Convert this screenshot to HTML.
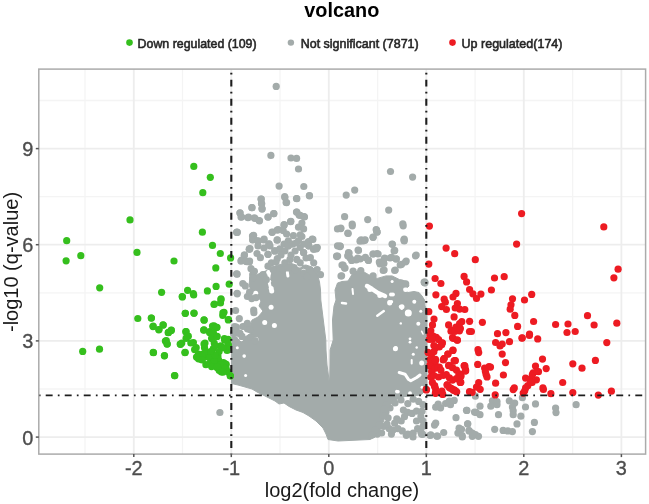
<!DOCTYPE html>
<html><head><meta charset="utf-8"><style>
html,body{margin:0;padding:0;background:#fff;}
svg{display:block;filter:blur(0.6px);}
.mi{stroke:#f4f4f4;stroke-width:1.3}
.ma{stroke:#ededed;stroke-width:1.8}
.dl{stroke:#1e1e1e;stroke-width:1.9;fill:none}
.tk{stroke:#555;stroke-width:1.5}
text{font-family:"Liberation Sans",sans-serif;}
.tl{font-size:21px;fill:#4d4d4d;stroke:#4d4d4d;stroke-width:0.35}
.at{font-size:20px;fill:#1a1a1a}
.ti{font-size:19.5px;font-weight:bold;fill:#000}
.lg{font-size:13.5px;fill:#262626;stroke:#262626;stroke-width:0.6}
</style></head>
<body><svg width="649" height="504" viewBox="0 0 649 504">
<rect x="0" y="0" width="649" height="504" fill="#fff"/>
<line x1="85" y1="69.1" x2="85" y2="454.1" class="mi"/>
<line x1="182.5" y1="69.1" x2="182.5" y2="454.1" class="mi"/>
<line x1="280" y1="69.1" x2="280" y2="454.1" class="mi"/>
<line x1="377.6" y1="69.1" x2="377.6" y2="454.1" class="mi"/>
<line x1="475.1" y1="69.1" x2="475.1" y2="454.1" class="mi"/>
<line x1="572.6" y1="69.1" x2="572.6" y2="454.1" class="mi"/>
<line x1="38.8" y1="389" x2="645.6" y2="389" class="mi"/>
<line x1="38.8" y1="292.8" x2="645.6" y2="292.8" class="mi"/>
<line x1="38.8" y1="196.7" x2="645.6" y2="196.7" class="mi"/>
<line x1="38.8" y1="100.5" x2="645.6" y2="100.5" class="mi"/>
<line x1="133.8" y1="69.1" x2="133.8" y2="454.1" class="ma"/>
<line x1="231.3" y1="69.1" x2="231.3" y2="454.1" class="ma"/>
<line x1="328.8" y1="69.1" x2="328.8" y2="454.1" class="ma"/>
<line x1="426.3" y1="69.1" x2="426.3" y2="454.1" class="ma"/>
<line x1="523.8" y1="69.1" x2="523.8" y2="454.1" class="ma"/>
<line x1="621.4" y1="69.1" x2="621.4" y2="454.1" class="ma"/>
<line x1="38.8" y1="437.1" x2="645.6" y2="437.1" class="ma"/>
<line x1="38.8" y1="340.9" x2="645.6" y2="340.9" class="ma"/>
<line x1="38.8" y1="244.7" x2="645.6" y2="244.7" class="ma"/>
<line x1="38.8" y1="148.6" x2="645.6" y2="148.6" class="ma"/>
<path d="M263 272 L268 270 L275 266 L282 264 L290 263 L299 266 L306 265 L312 267 L315 270 L317 273 L319.5 282 L320.5 290 L320.8 300 L323.3 320 L325.8 340 L326 350 L327 365 L328.5 376 L329.3 384 L329.8 376 L330 365 L330.1 350 L333.2 340 L332.5 320 L334 306 L336 300 L335 290 L337.5 283 L342 281.5 L348 281 L352.7 273.4 L360.1 269.7 L368.7 274.7 L377.3 278.4 L386 275.9 L392.1 275.9 L399.5 279.6 L406.9 281.5 L409 286 L405 290 L408 292.5 L414 291.5 L419 292.5 L422 296 L424.5 300 L425 306 L427 310 L427 389 L421 395 L405 396.5 L397 399 L391 404 L387 410 L384 420 L380 430 L375 437 L370 439.5 L338 441 L328 439.5 L326 434 L323 428 L316 421 L309 416 L303 412.5 L296 410 L289 406.4 L284 403 L279 404 L275 401 L267 397 L257 392 L252 389 L245 387 L238 385 L231.5 383.5 L231.5 343 L237 340 L245 337 L251 333 L250 327 L252 320 L258 317 L263 311 L259 306 L261 301 L258 297 L252 293 L249 285 L250 277 L256 275 Z" fill="#a3abaa" stroke="#a3abaa" stroke-width="1" stroke-linejoin="round"/>
<circle cx="268.7" cy="272.4" r="2.5" fill="#fff"/>
<circle cx="277.3" cy="258.2" r="2.5" fill="#fff"/>
<circle cx="287.2" cy="268.7" r="2.5" fill="#fff"/>
<circle cx="271.2" cy="288.4" r="2.5" fill="#fff"/>
<circle cx="255.7" cy="293.3" r="2.5" fill="#fff"/>
<circle cx="299.5" cy="265" r="2.5" fill="#fff"/>
<circle cx="290.9" cy="256.3" r="2.5" fill="#fff"/>
<circle cx="271.1" cy="307.3" r="2.5" fill="#fff"/>
<circle cx="264.7" cy="322.4" r="2.5" fill="#fff"/>
<circle cx="274.4" cy="325.6" r="2.5" fill="#fff"/>
<circle cx="256" cy="339.6" r="2.5" fill="#fff"/>
<circle cx="271.7" cy="291" r="2.5" fill="#fff"/>
<circle cx="369.9" cy="289.5" r="2.5" fill="#fff"/>
<circle cx="379.8" cy="295.6" r="2.5" fill="#fff"/>
<circle cx="389.7" cy="303" r="2.5" fill="#fff"/>
<circle cx="402" cy="306.7" r="2.5" fill="#fff"/>
<circle cx="405.7" cy="289.5" r="2.5" fill="#fff"/>
<circle cx="398" cy="391.8" r="1.8" fill="#fff"/>
<circle cx="410" cy="393.1" r="1.8" fill="#fff"/>
<circle cx="235.9" cy="332.5" r="1.5" fill="#fff"/>
<circle cx="241.4" cy="339.4" r="1.8" fill="#fff"/>
<circle cx="237.3" cy="347.8" r="1.5" fill="#fff"/>
<circle cx="244.2" cy="356.1" r="1.8" fill="#fff"/>
<circle cx="245.6" cy="375.6" r="1.5" fill="#fff"/>
<circle cx="257.5" cy="266" r="2.2" fill="#fff"/>
<circle cx="259.5" cy="270" r="2" fill="#fff"/>
<circle cx="268.8" cy="272.1" r="1.8" fill="#fff"/>
<circle cx="277.3" cy="259" r="1.8" fill="#fff"/>
<circle cx="269.6" cy="281.4" r="1.6" fill="#fff"/>
<circle cx="266.5" cy="254.3" r="1.6" fill="#fff"/>
<circle cx="259.5" cy="253.5" r="1.5" fill="#fff"/>
<circle cx="277.2" cy="258.4" r="2" fill="#fff"/>
<circle cx="389.3" cy="301.9" r="2" fill="#fff"/>
<circle cx="391" cy="294.5" r="2" fill="#fff"/>
<circle cx="408.3" cy="313" r="3.5" fill="#fff"/>
<circle cx="418.3" cy="323.8" r="2" fill="#fff"/>
<circle cx="392.9" cy="294.6" r="2" fill="#fff"/>
<circle cx="391.4" cy="301.7" r="1.8" fill="#fff"/>
<circle cx="414.3" cy="301.7" r="2" fill="#fff"/>
<circle cx="400.7" cy="306.7" r="2" fill="#fff"/>
<circle cx="392.1" cy="281.4" r="1.5" fill="#fff"/>
<circle cx="401.7" cy="308.8" r="1.3" fill="#fff"/>
<circle cx="420.8" cy="311.3" r="1.5" fill="#fff"/>
<circle cx="400.8" cy="323.4" r="1.2" fill="#fff"/>
<circle cx="410" cy="338.8" r="1.4" fill="#fff"/>
<circle cx="410" cy="342.2" r="1.4" fill="#fff"/>
<circle cx="395.8" cy="348" r="2" fill="#fff"/>
<circle cx="395.4" cy="348.8" r="2.5" fill="#fff"/>
<circle cx="413.3" cy="354.2" r="1.5" fill="#fff"/>
<circle cx="421.7" cy="362.9" r="2.5" fill="#fff"/>
<circle cx="416.7" cy="347.5" r="1.2" fill="#fff"/>
<circle cx="303.6" cy="271" r="2.2" fill="#fff"/>
<circle cx="396.8" cy="391.6" r="1.8" fill="#fff"/>
<circle cx="410" cy="394" r="1.8" fill="#fff"/>
<circle cx="422" cy="387.2" r="1.5" fill="#fff"/>
<polyline points="287,270 287.9,276" fill="none" stroke="#fff" stroke-width="3" stroke-linecap="round" stroke-linejoin="round"/>
<polyline points="269.4,272.7 268.5,280 270.3,287" fill="none" stroke="#fff" stroke-width="3" stroke-linecap="round" stroke-linejoin="round"/>
<polyline points="352.5,289 353,294" fill="none" stroke="#fff" stroke-width="2" stroke-linecap="round" stroke-linejoin="round"/>
<polyline points="367,286 372,289 378,293 385,296" fill="none" stroke="#fff" stroke-width="4.5" stroke-linecap="round" stroke-linejoin="round"/>
<polyline points="377.3,315.7 383.8,311.1" fill="none" stroke="#fff" stroke-width="2.5" stroke-linecap="round" stroke-linejoin="round"/>
<polyline points="342,303 346,303.5" fill="none" stroke="#fff" stroke-width="2.5" stroke-linecap="round" stroke-linejoin="round"/>
<polyline points="421.7,331.3 423,334" fill="none" stroke="#fff" stroke-width="1.6" stroke-linecap="round" stroke-linejoin="round"/>
<polyline points="411.7,360 411.7,363.5" fill="none" stroke="#fff" stroke-width="2" stroke-linecap="round" stroke-linejoin="round"/>
<polyline points="399.2,372.5 405,374.2 408.3,379.2 410.8,380.8 416.7,377.5 420,375" fill="none" stroke="#fff" stroke-width="3" stroke-linecap="round" stroke-linejoin="round"/>
<g fill="#a3abaa"><circle cx="276.2" cy="86.4" r="3.6"/><circle cx="270.9" cy="155.4" r="3.6"/><circle cx="291" cy="158" r="3.6"/><circle cx="296.6" cy="158.4" r="3.6"/><circle cx="298.5" cy="169" r="3.6"/><circle cx="279.1" cy="186.1" r="3.6"/><circle cx="303.8" cy="186.5" r="3.6"/><circle cx="309.4" cy="195.5" r="3.6"/><circle cx="284.7" cy="196.5" r="3.6"/><circle cx="286.1" cy="202.5" r="3.6"/><circle cx="296.5" cy="198.5" r="3.6"/><circle cx="261.1" cy="199.1" r="3.6"/><circle cx="261.7" cy="203.7" r="3.6"/><circle cx="262.1" cy="209.1" r="3.6"/><circle cx="252" cy="207.7" r="3.6"/><circle cx="240" cy="213.1" r="3.6"/><circle cx="241" cy="217.1" r="3.6"/><circle cx="248" cy="217.7" r="3.6"/><circle cx="255.1" cy="218.5" r="3.6"/><circle cx="259.1" cy="220.5" r="3.6"/><circle cx="268.1" cy="217.1" r="3.6"/><circle cx="273.7" cy="213.7" r="3.6"/><circle cx="296.5" cy="212.1" r="3.6"/><circle cx="299.1" cy="215.1" r="3.6"/><circle cx="304.2" cy="216.7" r="3.6"/><circle cx="290.5" cy="221.7" r="3.6"/><circle cx="237" cy="232.2" r="3.6"/><circle cx="272.1" cy="232.2" r="3.6"/><circle cx="277.1" cy="230.2" r="3.6"/><circle cx="284.1" cy="225.2" r="3.6"/><circle cx="253" cy="235.8" r="3.6"/><circle cx="254.1" cy="239.2" r="3.6"/><circle cx="258.1" cy="241.2" r="3.6"/><circle cx="264.1" cy="239.2" r="3.6"/><circle cx="269.1" cy="243.8" r="3.6"/><circle cx="277.1" cy="240.2" r="3.6"/><circle cx="312.2" cy="239.2" r="3.6"/><circle cx="308.2" cy="242.2" r="3.6"/><circle cx="316.2" cy="247.8" r="3.6"/><circle cx="250" cy="248.6" r="3.6"/><circle cx="346.2" cy="195.1" r="3.6"/><circle cx="354.7" cy="190.1" r="3.6"/><circle cx="344.6" cy="216.7" r="3.6"/><circle cx="352.2" cy="224.1" r="3.6"/><circle cx="340.8" cy="228.6" r="3.6"/><circle cx="347.8" cy="233.2" r="3.6"/><circle cx="340.2" cy="246.2" r="3.6"/><circle cx="390.5" cy="171.5" r="3.6"/><circle cx="412.6" cy="177.1" r="3.6"/><circle cx="388.7" cy="210.1" r="3.6"/><circle cx="367.7" cy="219.6" r="3.6"/><circle cx="402.8" cy="223.8" r="3.6"/><circle cx="376.5" cy="230.2" r="3.6"/><circle cx="377.1" cy="232.2" r="3.6"/><circle cx="373.1" cy="237.2" r="3.6"/><circle cx="361.1" cy="239.8" r="3.6"/><circle cx="365.1" cy="239.8" r="3.6"/><circle cx="404.2" cy="239.2" r="3.6"/><circle cx="237.4" cy="232.3" r="3.6"/><circle cx="237.1" cy="274.2" r="3.6"/><circle cx="237.1" cy="293.3" r="3.6"/><circle cx="252.5" cy="236" r="3.6"/><circle cx="252.8" cy="239.7" r="3.6"/><circle cx="249.3" cy="249.2" r="3.6"/><circle cx="244.4" cy="255.1" r="3.6"/><circle cx="241.5" cy="260.2" r="3.6"/><circle cx="246.6" cy="261.7" r="3.6"/><circle cx="249.6" cy="261" r="3.6"/><circle cx="219.9" cy="412.5" r="3.6"/><circle cx="424.4" cy="282.6" r="3.6"/><circle cx="340" cy="246" r="3.6"/><circle cx="337.6" cy="256" r="3.6"/><circle cx="349.1" cy="253" r="3.6"/><circle cx="350.1" cy="258" r="3.6"/><circle cx="358.1" cy="250" r="3.6"/><circle cx="363.1" cy="241" r="3.6"/><circle cx="373.1" cy="254" r="3.6"/><circle cx="378.1" cy="254" r="3.6"/><circle cx="392.1" cy="244" r="3.6"/><circle cx="394.1" cy="251" r="3.6"/><circle cx="404.2" cy="241" r="3.6"/><circle cx="416.2" cy="255" r="3.6"/><circle cx="368.1" cy="260" r="3.6"/><circle cx="384.1" cy="259" r="3.6"/><circle cx="390.1" cy="258" r="3.6"/><circle cx="396.2" cy="259" r="3.6"/><circle cx="406.2" cy="261" r="3.6"/><circle cx="400.2" cy="265" r="3.6"/><circle cx="342" cy="265" r="3.6"/><circle cx="345" cy="268" r="3.6"/><circle cx="356.1" cy="260" r="3.6"/><circle cx="360.1" cy="259" r="3.6"/><circle cx="341" cy="276" r="3.6"/><circle cx="424.2" cy="282" r="3.6"/><circle cx="395.2" cy="270" r="3.6"/><circle cx="380.1" cy="264" r="3.6"/><circle cx="384.1" cy="270" r="3.6"/><circle cx="237.2" cy="293.8" r="3.6"/><circle cx="235.6" cy="310.5" r="3.6"/><circle cx="239.3" cy="318.6" r="3.6"/><circle cx="253.7" cy="310" r="3.6"/><circle cx="253.9" cy="312.7" r="3.6"/><circle cx="247.4" cy="296.5" r="3.6"/><circle cx="251.7" cy="298.6" r="3.6"/><circle cx="256" cy="297.6" r="3.6"/><circle cx="249.6" cy="292.2" r="3.6"/><circle cx="234.5" cy="326.7" r="3.6"/><circle cx="236.1" cy="329.9" r="3.6"/><circle cx="238.2" cy="333.2" r="3.6"/><circle cx="245.3" cy="326.1" r="3.6"/><circle cx="247.4" cy="328.8" r="3.6"/><circle cx="242" cy="336.4" r="3.6"/><circle cx="234.5" cy="339.6" r="3.6"/><circle cx="250.7" cy="337.5" r="3.6"/><circle cx="255" cy="340.7" r="3.6"/><circle cx="576.1" cy="404.7" r="3.6"/><circle cx="555.6" cy="408" r="3.6"/><circle cx="556" cy="412.6" r="3.6"/><circle cx="475.4" cy="396.2" r="3.6"/><circle cx="492.4" cy="400.8" r="3.6"/><circle cx="497" cy="401.6" r="3.6"/><circle cx="490.8" cy="406.2" r="3.6"/><circle cx="497" cy="404.7" r="3.6"/><circle cx="509.3" cy="400.8" r="3.6"/><circle cx="514.7" cy="403.1" r="3.6"/><circle cx="512.4" cy="407" r="3.6"/><circle cx="513.2" cy="410.8" r="3.6"/><circle cx="513.2" cy="414.7" r="3.6"/><circle cx="522.4" cy="397.7" r="3.6"/><circle cx="525.5" cy="407" r="3.6"/><circle cx="535.5" cy="403.9" r="3.6"/><circle cx="466.9" cy="410.4" r="3.6"/><circle cx="480" cy="406.2" r="3.6"/><circle cx="476.2" cy="412.4" r="3.6"/><circle cx="480" cy="414.7" r="3.6"/><circle cx="498.5" cy="414.7" r="3.6"/><circle cx="520.9" cy="416.2" r="3.6"/><circle cx="517" cy="423.9" r="3.6"/><circle cx="534.4" cy="422.4" r="3.6"/><circle cx="467.7" cy="423.9" r="3.6"/><circle cx="494.7" cy="429.3" r="3.6"/><circle cx="503.1" cy="430.4" r="3.6"/><circle cx="507.8" cy="430.9" r="3.6"/><circle cx="512.4" cy="431.6" r="3.6"/><circle cx="532.4" cy="431.6" r="3.6"/><circle cx="469.2" cy="430.9" r="3.6"/><circle cx="472.3" cy="433.2" r="3.6"/><circle cx="475.4" cy="434.7" r="3.6"/><circle cx="478.5" cy="436.3" r="3.6"/><circle cx="472.3" cy="436.3" r="3.6"/><circle cx="461.5" cy="429.3" r="3.6"/><circle cx="462.3" cy="437" r="3.6"/><circle cx="435.7" cy="407.2" r="3.6"/><circle cx="440.6" cy="407.8" r="3.6"/><circle cx="445.6" cy="403.5" r="3.6"/><circle cx="450.5" cy="404.7" r="3.6"/><circle cx="454.2" cy="400.4" r="3.6"/><circle cx="449.3" cy="401" r="3.6"/><circle cx="438.2" cy="404.1" r="3.6"/><circle cx="466.5" cy="410.3" r="3.6"/><circle cx="474.5" cy="412.1" r="3.6"/><circle cx="456" cy="417.7" r="3.6"/><circle cx="434.5" cy="425.1" r="3.6"/><circle cx="435.7" cy="423.2" r="3.6"/><circle cx="467.7" cy="423.8" r="3.6"/><circle cx="459.1" cy="428.2" r="3.6"/><circle cx="457.9" cy="433.1" r="3.6"/><circle cx="462.2" cy="435.6" r="3.6"/><circle cx="469" cy="430.6" r="3.6"/><circle cx="472.7" cy="434.3" r="3.6"/><circle cx="443.7" cy="432.5" r="3.6"/><circle cx="437.5" cy="436.2" r="3.6"/><circle cx="430.8" cy="434.9" r="3.6"/><circle cx="422.7" cy="434.3" r="3.6"/><circle cx="406.3" cy="435.3" r="3.6"/><circle cx="413" cy="437" r="3.6"/><circle cx="421.5" cy="434.1" r="3.6"/><circle cx="430" cy="435.3" r="3.6"/><circle cx="436.8" cy="436.1" r="3.6"/><circle cx="261.2" cy="199.2" r="3.6"/><circle cx="261.5" cy="203.5" r="3.6"/><circle cx="262" cy="208.6" r="3.6"/><circle cx="251.9" cy="207.7" r="3.6"/><circle cx="240" cy="212.8" r="3.6"/><circle cx="241.7" cy="217" r="3.6"/><circle cx="248.5" cy="217" r="3.6"/><circle cx="254.4" cy="217.9" r="3.6"/><circle cx="259.5" cy="220.8" r="3.6"/><circle cx="268" cy="217" r="3.6"/><circle cx="273.9" cy="213.6" r="3.6"/><circle cx="284.9" cy="197.5" r="3.6"/><circle cx="286.6" cy="202.6" r="3.6"/><circle cx="296.8" cy="198.7" r="3.6"/><circle cx="309.5" cy="195.8" r="3.6"/><circle cx="296.8" cy="212" r="3.6"/><circle cx="300.2" cy="215.3" r="3.6"/><circle cx="304.4" cy="217" r="3.6"/><circle cx="290.9" cy="221.3" r="3.6"/><circle cx="284.1" cy="224.7" r="3.6"/><circle cx="301.9" cy="223" r="3.6"/><circle cx="298.5" cy="227.2" r="3.6"/><circle cx="303.6" cy="228.9" r="3.6"/><circle cx="272.2" cy="232.3" r="3.6"/><circle cx="278.2" cy="229.7" r="3.6"/><circle cx="283.2" cy="230.6" r="3.6"/><circle cx="286.6" cy="234" r="3.6"/><circle cx="293.4" cy="235.7" r="3.6"/><circle cx="300.2" cy="234.8" r="3.6"/><circle cx="236.6" cy="232.3" r="3.6"/><circle cx="253.6" cy="235.3" r="3.6"/><circle cx="252.7" cy="239.9" r="3.6"/><circle cx="257.8" cy="240.8" r="3.6"/><circle cx="263.7" cy="239.9" r="3.6"/><circle cx="268.8" cy="244.2" r="3.6"/><circle cx="277.3" cy="239.9" r="3.6"/><circle cx="288.3" cy="240.8" r="3.6"/><circle cx="284.1" cy="244.2" r="3.6"/><circle cx="288.3" cy="245.8" r="3.6"/><circle cx="292.6" cy="244.2" r="3.6"/><circle cx="298.5" cy="240.8" r="3.6"/><circle cx="301.9" cy="236.5" r="3.6"/><circle cx="308.7" cy="241.6" r="3.6"/><circle cx="312.9" cy="239.4" r="3.6"/><circle cx="316.3" cy="248.9" r="3.6"/><circle cx="249.3" cy="249.2" r="3.6"/><circle cx="244.3" cy="255.2" r="3.6"/><circle cx="240.9" cy="261.1" r="3.6"/><circle cx="245.9" cy="261.1" r="3.6"/><circle cx="249.3" cy="262" r="3.6"/><circle cx="257" cy="253.5" r="3.6"/><circle cx="260.4" cy="257.7" r="3.6"/><circle cx="251" cy="268.7" r="3.6"/><circle cx="252.7" cy="274.7" r="3.6"/><circle cx="236.6" cy="273.8" r="3.6"/><circle cx="268" cy="254.3" r="3.6"/><circle cx="274.8" cy="250.9" r="3.6"/><circle cx="279.8" cy="249.2" r="3.6"/><circle cx="303.6" cy="252.6" r="3.6"/><circle cx="308.7" cy="245.8" r="3.6"/><circle cx="313.7" cy="249.2" r="3.6"/><circle cx="317.1" cy="247.5" r="3.6"/><circle cx="337.5" cy="228.9" r="3.6"/><circle cx="337.5" cy="245.8" r="3.6"/><circle cx="336.6" cy="256" r="3.6"/><circle cx="340.8" cy="228.1" r="3.6"/><circle cx="352.3" cy="225.8" r="3.6"/><circle cx="348.2" cy="233.5" r="3.6"/><circle cx="376.2" cy="229.6" r="3.6"/><circle cx="377" cy="231.9" r="3.6"/><circle cx="373.1" cy="237.3" r="3.6"/><circle cx="403.2" cy="225.8" r="3.6"/><circle cx="360" cy="241.2" r="3.6"/><circle cx="364.7" cy="240.4" r="3.6"/><circle cx="404" cy="239.9" r="3.6"/><circle cx="340" cy="246.6" r="3.6"/><circle cx="392.4" cy="244.3" r="3.6"/><circle cx="394.7" cy="250.4" r="3.6"/><circle cx="348.5" cy="252.7" r="3.6"/><circle cx="347.7" cy="255.8" r="3.6"/><circle cx="358.5" cy="250.4" r="3.6"/><circle cx="336.9" cy="256.6" r="3.6"/><circle cx="373.1" cy="254" r="3.6"/><circle cx="377" cy="253.5" r="3.6"/><circle cx="415.5" cy="255.8" r="3.6"/><circle cx="351.6" cy="260.4" r="3.6"/><circle cx="357.7" cy="258.1" r="3.6"/><circle cx="365.4" cy="257.4" r="3.6"/><circle cx="368.5" cy="260.4" r="3.6"/><circle cx="379.3" cy="262" r="3.6"/><circle cx="384.7" cy="258.1" r="3.6"/><circle cx="383.9" cy="263.5" r="3.6"/><circle cx="391.6" cy="257.4" r="3.6"/><circle cx="396.3" cy="258.9" r="3.6"/><circle cx="401.6" cy="264.3" r="3.6"/><circle cx="405.5" cy="262" r="3.6"/><circle cx="343.1" cy="265.1" r="3.6"/><circle cx="344.6" cy="268.1" r="3.6"/><circle cx="394.7" cy="270.5" r="3.6"/><circle cx="383.2" cy="270.5" r="3.6"/><circle cx="341.6" cy="275.8" r="3.6"/><circle cx="424.8" cy="282" r="3.6"/><circle cx="353.1" cy="271.2" r="3.6"/><circle cx="360.8" cy="270.5" r="3.6"/><circle cx="373.1" cy="275.8" r="3.6"/><circle cx="236.3" cy="327" r="3.6"/><circle cx="242.8" cy="326.5" r="3.6"/><circle cx="247.4" cy="323.3" r="3.6"/><circle cx="250.2" cy="329.7" r="3.6"/><circle cx="240" cy="333.4" r="3.6"/><circle cx="233.5" cy="333.4" r="3.6"/><circle cx="401.4" cy="283.1" r="3.6"/><circle cx="405.7" cy="283.9" r="3.6"/><circle cx="425" cy="282.8" r="3.6"/><circle cx="268" cy="254.3" r="3.6"/><circle cx="274.8" cy="250.9" r="3.6"/><circle cx="279.8" cy="249.2" r="3.6"/><circle cx="277.3" cy="258.6" r="3.6"/><circle cx="284.9" cy="251" r="3.6"/><circle cx="288.3" cy="245.8" r="3.6"/><circle cx="295.1" cy="251" r="3.6"/><circle cx="300.2" cy="247.5" r="3.6"/><circle cx="303.6" cy="252.6" r="3.6"/><circle cx="308.7" cy="245.8" r="3.6"/><circle cx="313.7" cy="249.2" r="3.6"/><circle cx="317.1" cy="247.5" r="3.6"/><circle cx="271.4" cy="262.8" r="3.6"/><circle cx="268" cy="266.2" r="3.6"/><circle cx="273.1" cy="269.6" r="3.6"/><circle cx="284.9" cy="262.8" r="3.6"/><circle cx="290" cy="259.4" r="3.6"/><circle cx="283.2" cy="269.6" r="3.6"/><circle cx="288.3" cy="267.9" r="3.6"/><circle cx="296.8" cy="259.4" r="3.6"/><circle cx="300.2" cy="262.8" r="3.6"/><circle cx="295.1" cy="269.6" r="3.6"/><circle cx="310.4" cy="257.7" r="3.6"/><circle cx="313.7" cy="262.8" r="3.6"/><circle cx="317.1" cy="269.6" r="3.6"/><circle cx="320.5" cy="274.7" r="3.6"/><circle cx="303.6" cy="273" r="3.6"/><circle cx="307" cy="276.4" r="3.6"/><circle cx="254.4" cy="271.3" r="3.6"/><circle cx="252.7" cy="278" r="3.6"/><circle cx="262.9" cy="274.7" r="3.6"/><circle cx="266.3" cy="279.7" r="3.6"/><circle cx="291" cy="255" r="3.6"/><circle cx="281" cy="255" r="3.6"/><circle cx="306" cy="258" r="3.6"/><circle cx="276" cy="262" r="3.6"/><circle cx="407.8" cy="403.6" r="3.6"/><circle cx="413.2" cy="399.2" r="3.6"/><circle cx="418.7" cy="401.4" r="3.6"/><circle cx="423" cy="404.7" r="3.6"/><circle cx="422" cy="411.2" r="3.6"/><circle cx="403.4" cy="410.1" r="3.6"/><circle cx="407.8" cy="412.3" r="3.6"/><circle cx="412.1" cy="413.4" r="3.6"/><circle cx="416.5" cy="411.2" r="3.6"/><circle cx="420.9" cy="416.7" r="3.6"/><circle cx="396.8" cy="418.8" r="3.6"/><circle cx="401.2" cy="421" r="3.6"/><circle cx="404.5" cy="416.7" r="3.6"/><circle cx="394.7" cy="423.2" r="3.6"/><circle cx="397.9" cy="428.7" r="3.6"/><circle cx="402.3" cy="430.9" r="3.6"/><circle cx="407.8" cy="434.1" r="3.6"/><circle cx="413.2" cy="433" r="3.6"/><circle cx="417.6" cy="428.7" r="3.6"/><circle cx="420.9" cy="431.9" r="3.6"/><circle cx="423" cy="426.5" r="3.6"/><circle cx="416.5" cy="421" r="3.6"/><circle cx="423" cy="421" r="3.6"/><circle cx="385.9" cy="412.3" r="3.6"/><circle cx="388.1" cy="417.8" r="3.6"/><circle cx="383.7" cy="426.5" r="3.6"/><circle cx="389.2" cy="428.7" r="3.6"/><circle cx="391.4" cy="434.1" r="3.6"/><circle cx="381.6" cy="433" r="3.6"/><circle cx="377.2" cy="434.1" r="3.6"/><circle cx="401" cy="400" r="3.6"/><circle cx="395" cy="403" r="3.6"/><circle cx="390" cy="408" r="3.6"/><circle cx="386" cy="405" r="3.6"/><circle cx="383" cy="415" r="3.6"/><circle cx="379" cy="425" r="3.6"/><circle cx="375" cy="430" r="3.6"/><circle cx="372" cy="435" r="3.6"/><circle cx="384" cy="409" r="3.6"/><circle cx="387" cy="424" r="3.6"/><circle cx="393" cy="430" r="3.6"/><circle cx="242.8" cy="283.5" r="3.6"/><circle cx="245.3" cy="285.9" r="3.6"/><circle cx="258" cy="246" r="3.6"/><circle cx="264" cy="248" r="3.6"/><circle cx="270" cy="246" r="3.6"/><circle cx="296" cy="243" r="3.6"/><circle cx="304" cy="244" r="3.6"/></g>
<g fill="#35bf1d"><circle cx="193.8" cy="166.4" r="3.6"/><circle cx="210.3" cy="177.3" r="3.6"/><circle cx="202.8" cy="192.7" r="3.6"/><circle cx="130" cy="219.9" r="3.6"/><circle cx="202.4" cy="232.2" r="3.6"/><circle cx="66.7" cy="240.7" r="3.6"/><circle cx="212.5" cy="245.4" r="3.6"/><circle cx="220.3" cy="253.5" r="3.6"/><circle cx="230.6" cy="257.9" r="3.6"/><circle cx="80.8" cy="255.7" r="3.6"/><circle cx="137" cy="252.4" r="3.6"/><circle cx="66.1" cy="260.8" r="3.6"/><circle cx="174" cy="261" r="3.6"/><circle cx="215.8" cy="267.9" r="3.6"/><circle cx="99.7" cy="287.8" r="3.6"/><circle cx="161.6" cy="292.3" r="3.6"/><circle cx="229.2" cy="284.2" r="3.6"/><circle cx="216.1" cy="286.4" r="3.6"/><circle cx="207.4" cy="290.9" r="3.6"/><circle cx="187.6" cy="290.3" r="3.6"/><circle cx="193.3" cy="293.7" r="3.6"/><circle cx="182.2" cy="296.6" r="3.6"/><circle cx="221" cy="298.9" r="3.6"/><circle cx="220.5" cy="303" r="3.6"/><circle cx="214" cy="304.5" r="3.6"/><circle cx="137.8" cy="318.5" r="3.6"/><circle cx="151.4" cy="318.1" r="3.6"/><circle cx="185.4" cy="313.3" r="3.6"/><circle cx="194" cy="313" r="3.6"/><circle cx="224" cy="312.3" r="3.6"/><circle cx="222.8" cy="315.5" r="3.6"/><circle cx="228.3" cy="319.9" r="3.6"/><circle cx="204.2" cy="320.2" r="3.6"/><circle cx="153" cy="326.6" r="3.6"/><circle cx="159" cy="329.5" r="3.6"/><circle cx="163.3" cy="325.1" r="3.6"/><circle cx="171.4" cy="330.2" r="3.6"/><circle cx="168.5" cy="332.4" r="3.6"/><circle cx="185.8" cy="331.7" r="3.6"/><circle cx="203.7" cy="330.2" r="3.6"/><circle cx="214" cy="325.8" r="3.6"/><circle cx="217" cy="327.3" r="3.6"/><circle cx="209.6" cy="331.7" r="3.6"/><circle cx="166.3" cy="340.5" r="3.6"/><circle cx="167" cy="344.1" r="3.6"/><circle cx="186.1" cy="338.3" r="3.6"/><circle cx="180.2" cy="344.1" r="3.6"/><circle cx="82.7" cy="351.4" r="3.6"/><circle cx="99.5" cy="349.2" r="3.6"/><circle cx="153.5" cy="352.7" r="3.6"/><circle cx="164.4" cy="355.8" r="3.6"/><circle cx="184.9" cy="352.6" r="3.6"/><circle cx="174.8" cy="375.7" r="3.6"/><circle cx="230.2" cy="375.7" r="3.6"/><circle cx="221.4" cy="372" r="3.6"/><circle cx="188.3" cy="336.2" r="3.6"/><circle cx="181.8" cy="343.1" r="3.6"/><circle cx="193.4" cy="342.6" r="3.6"/><circle cx="196.2" cy="347.7" r="3.6"/><circle cx="198.5" cy="354.2" r="3.6"/><circle cx="198.5" cy="358.8" r="3.6"/><circle cx="205" cy="343.1" r="3.6"/><circle cx="204.5" cy="347.7" r="3.6"/><circle cx="203.1" cy="354.2" r="3.6"/><circle cx="207.7" cy="357" r="3.6"/><circle cx="212.3" cy="338.5" r="3.6"/><circle cx="214.2" cy="343.1" r="3.6"/><circle cx="213.3" cy="348.7" r="3.6"/><circle cx="211.4" cy="353.3" r="3.6"/><circle cx="217.9" cy="356" r="3.6"/><circle cx="218.8" cy="360.7" r="3.6"/><circle cx="224.4" cy="338.5" r="3.6"/><circle cx="228.1" cy="339.4" r="3.6"/><circle cx="228.1" cy="344" r="3.6"/><circle cx="227.1" cy="350.5" r="3.6"/><circle cx="220.7" cy="345.9" r="3.6"/><circle cx="223.4" cy="362.5" r="3.6"/><circle cx="226.2" cy="364.4" r="3.6"/><circle cx="202.2" cy="359.2" r="3.6"/><circle cx="210.5" cy="362" r="3.6"/><circle cx="214.2" cy="364.8" r="3.6"/><circle cx="217" cy="367.6" r="3.6"/><circle cx="225.3" cy="363.9" r="3.6"/><circle cx="226.2" cy="368.5" r="3.6"/><circle cx="217.9" cy="358.3" r="3.6"/><circle cx="182.4" cy="296.9" r="3.6"/><circle cx="193.7" cy="295" r="3.6"/><circle cx="221" cy="299.7" r="3.6"/><circle cx="214.4" cy="304" r="3.6"/><circle cx="185.2" cy="313.3" r="3.6"/><circle cx="194" cy="313.3" r="3.6"/><circle cx="222.9" cy="312.9" r="3.6"/><circle cx="228.5" cy="319.5" r="3.6"/><circle cx="151.3" cy="318" r="3.6"/><circle cx="204" cy="319.9" r="3.6"/><circle cx="153.2" cy="326.1" r="3.6"/><circle cx="158.8" cy="329.8" r="3.6"/><circle cx="163" cy="324.8" r="3.6"/><circle cx="168.2" cy="332.7" r="3.6"/><circle cx="171.1" cy="330.4" r="3.6"/><circle cx="186.1" cy="331.7" r="3.6"/><circle cx="187.1" cy="336.4" r="3.6"/><circle cx="204" cy="329.8" r="3.6"/><circle cx="212.5" cy="326.1" r="3.6"/><circle cx="216.3" cy="327.4" r="3.6"/><circle cx="209.7" cy="332.7" r="3.6"/><circle cx="211.6" cy="338.3" r="3.6"/><circle cx="165.4" cy="341.1" r="3.6"/><circle cx="167.3" cy="344" r="3.6"/><circle cx="180.5" cy="344.3" r="3.6"/><circle cx="190.8" cy="343" r="3.6"/><circle cx="194.6" cy="349.6" r="3.6"/><circle cx="198.4" cy="355.3" r="3.6"/><circle cx="200.3" cy="359" r="3.6"/><circle cx="204" cy="344" r="3.6"/><circle cx="205.9" cy="351.5" r="3.6"/><circle cx="209.7" cy="357.1" r="3.6"/><circle cx="214.4" cy="360.9" r="3.6"/><circle cx="215.3" cy="345.8" r="3.6"/><circle cx="219.1" cy="351.5" r="3.6"/><circle cx="215.3" cy="355.3" r="3.6"/><circle cx="224.7" cy="340.2" r="3.6"/><circle cx="228.5" cy="345.8" r="3.6"/><circle cx="221" cy="364.7" r="3.6"/><circle cx="224.7" cy="368.4" r="3.6"/><circle cx="228.5" cy="372.2" r="3.6"/><circle cx="230.4" cy="376" r="3.6"/><circle cx="219.1" cy="370.3" r="3.6"/><circle cx="222.9" cy="372.2" r="3.6"/><circle cx="153.2" cy="352.4" r="3.6"/><circle cx="164.5" cy="355.6" r="3.6"/><circle cx="185.2" cy="352.4" r="3.6"/><circle cx="174.5" cy="375.6" r="3.6"/><circle cx="202.1" cy="355.3" r="3.6"/><circle cx="196.5" cy="357.1" r="3.6"/><circle cx="210.6" cy="351.5" r="3.6"/><circle cx="213.4" cy="332.7" r="3.6"/><circle cx="217.2" cy="336.4" r="3.6"/><circle cx="222.9" cy="347.7" r="3.6"/><circle cx="211.6" cy="366.6" r="3.6"/><circle cx="217.2" cy="366.6" r="3.6"/><circle cx="205.9" cy="364.7" r="3.6"/><circle cx="202.1" cy="360" r="3.6"/></g>
<g fill="#ed1b22"><circle cx="521.6" cy="213.6" r="3.6"/><circle cx="429.4" cy="226.1" r="3.6"/><circle cx="603.8" cy="226.9" r="3.6"/><circle cx="516.6" cy="244.1" r="3.6"/><circle cx="446.1" cy="248.1" r="3.6"/><circle cx="454.7" cy="253.7" r="3.6"/><circle cx="475.3" cy="259.7" r="3.6"/><circle cx="428.8" cy="264.1" r="3.6"/><circle cx="618.1" cy="269.2" r="3.6"/><circle cx="613.9" cy="277.8" r="3.6"/><circle cx="435.1" cy="278.5" r="3.6"/><circle cx="440.9" cy="283.5" r="3.6"/><circle cx="464.1" cy="276.4" r="3.6"/><circle cx="466.6" cy="281.9" r="3.6"/><circle cx="494.5" cy="278" r="3.6"/><circle cx="504.2" cy="276.7" r="3.6"/><circle cx="491.4" cy="290" r="3.6"/><circle cx="469.6" cy="289.5" r="3.6"/><circle cx="435.9" cy="294.8" r="3.6"/><circle cx="472.9" cy="293.8" r="3.6"/><circle cx="476.5" cy="298.5" r="3.6"/><circle cx="480.9" cy="294.1" r="3.6"/><circle cx="456" cy="293.4" r="3.6"/><circle cx="453" cy="297" r="3.6"/><circle cx="444.2" cy="299.2" r="3.6"/><circle cx="445.3" cy="302.2" r="3.6"/><circle cx="441.7" cy="306.6" r="3.6"/><circle cx="446.4" cy="309.5" r="3.6"/><circle cx="457.4" cy="303.6" r="3.6"/><circle cx="455.2" cy="308" r="3.6"/><circle cx="459.6" cy="309.1" r="3.6"/><circle cx="464.8" cy="309.5" r="3.6"/><circle cx="454.1" cy="316.9" r="3.6"/><circle cx="428.8" cy="311.7" r="3.6"/><circle cx="434" cy="319.1" r="3.6"/><circle cx="432.5" cy="324.9" r="3.6"/><circle cx="448.6" cy="324.9" r="3.6"/><circle cx="451.6" cy="330.1" r="3.6"/><circle cx="456" cy="327.1" r="3.6"/><circle cx="459.6" cy="323.5" r="3.6"/><circle cx="461.8" cy="321.7" r="3.6"/><circle cx="460.4" cy="328.6" r="3.6"/><circle cx="469.6" cy="321.3" r="3.6"/><circle cx="482.4" cy="322.3" r="3.6"/><circle cx="471.4" cy="331.5" r="3.6"/><circle cx="453.4" cy="338.5" r="3.6"/><circle cx="457.4" cy="340.2" r="3.6"/><circle cx="497.5" cy="333.7" r="3.6"/><circle cx="505.9" cy="332.6" r="3.6"/><circle cx="495.6" cy="342.5" r="3.6"/><circle cx="502.2" cy="344" r="3.6"/><circle cx="509.5" cy="341.7" r="3.6"/><circle cx="512.5" cy="298.8" r="3.6"/><circle cx="511" cy="304.8" r="3.6"/><circle cx="510.2" cy="309.2" r="3.6"/><circle cx="524.5" cy="300" r="3.6"/><circle cx="531.7" cy="294.4" r="3.6"/><circle cx="514.8" cy="315.4" r="3.6"/><circle cx="533.6" cy="321.5" r="3.6"/><circle cx="517.6" cy="326.4" r="3.6"/><circle cx="522.2" cy="337.8" r="3.6"/><circle cx="529.5" cy="334.2" r="3.6"/><circle cx="537.7" cy="338.9" r="3.6"/><circle cx="555.6" cy="324.5" r="3.6"/><circle cx="568" cy="324" r="3.6"/><circle cx="567" cy="332.5" r="3.6"/><circle cx="575.2" cy="331.5" r="3.6"/><circle cx="587.5" cy="315.7" r="3.6"/><circle cx="594.1" cy="325" r="3.6"/><circle cx="616.8" cy="323.2" r="3.6"/><circle cx="606.8" cy="342.6" r="3.6"/><circle cx="542.5" cy="359.1" r="3.6"/><circle cx="572.8" cy="363.8" r="3.6"/><circle cx="595.4" cy="360.4" r="3.6"/><circle cx="546.2" cy="368.6" r="3.6"/><circle cx="582" cy="368.2" r="3.6"/><circle cx="562.7" cy="382.5" r="3.6"/><circle cx="543.4" cy="389.5" r="3.6"/><circle cx="550.9" cy="393.7" r="3.6"/><circle cx="572.8" cy="392.6" r="3.6"/><circle cx="598.3" cy="395.1" r="3.6"/><circle cx="611.4" cy="391.2" r="3.6"/><circle cx="442" cy="343.1" r="3.6"/><circle cx="453" cy="350.4" r="3.6"/><circle cx="447.9" cy="354.1" r="3.6"/><circle cx="444.2" cy="358.5" r="3.6"/><circle cx="455.2" cy="360.7" r="3.6"/><circle cx="464.1" cy="365.8" r="3.6"/><circle cx="465.5" cy="369.5" r="3.6"/><circle cx="478" cy="349.7" r="3.6"/><circle cx="478.7" cy="352.6" r="3.6"/><circle cx="477.7" cy="364.4" r="3.6"/><circle cx="484.6" cy="368" r="3.6"/><circle cx="489" cy="366.6" r="3.6"/><circle cx="486.1" cy="374.6" r="3.6"/><circle cx="500" cy="346" r="3.6"/><circle cx="502.2" cy="354.1" r="3.6"/><circle cx="505.5" cy="362.6" r="3.6"/><circle cx="503.4" cy="375" r="3.6"/><circle cx="495.6" cy="383.2" r="3.6"/><circle cx="478.7" cy="382.7" r="3.6"/><circle cx="476.5" cy="387.1" r="3.6"/><circle cx="480.2" cy="389.3" r="3.6"/><circle cx="472.1" cy="392.3" r="3.6"/><circle cx="495.2" cy="394.9" r="3.6"/><circle cx="513.2" cy="389.6" r="3.6"/><circle cx="442.8" cy="394.5" r="3.6"/><circle cx="435.4" cy="393" r="3.6"/><circle cx="447.2" cy="384.9" r="3.6"/><circle cx="451.6" cy="388.6" r="3.6"/><circle cx="455.2" cy="390.8" r="3.6"/><circle cx="460.4" cy="382" r="3.6"/><circle cx="458.9" cy="374.6" r="3.6"/><circle cx="522" cy="338.2" r="3.6"/><circle cx="529.4" cy="335.5" r="3.6"/><circle cx="490.5" cy="367.1" r="3.6"/><circle cx="514.3" cy="387.9" r="3.6"/><circle cx="535.5" cy="366.1" r="3.6"/><circle cx="538.5" cy="371.7" r="3.6"/><circle cx="533.2" cy="372.8" r="3.6"/><circle cx="525.6" cy="378.1" r="3.6"/><circle cx="529.9" cy="379.2" r="3.6"/><circle cx="536.4" cy="379.8" r="3.6"/><circle cx="532.1" cy="382.5" r="3.6"/><circle cx="527.8" cy="385.7" r="3.6"/><circle cx="525.6" cy="387.9" r="3.6"/><circle cx="542.9" cy="387.9" r="3.6"/><circle cx="465.4" cy="370.8" r="3.6"/><circle cx="460.8" cy="374.6" r="3.6"/><circle cx="460.8" cy="382.3" r="3.6"/><circle cx="485.4" cy="371.5" r="3.6"/><circle cx="487" cy="376.9" r="3.6"/><circle cx="532.4" cy="374.6" r="3.6"/><circle cx="537" cy="371.5" r="3.6"/><circle cx="530.9" cy="382.3" r="3.6"/><circle cx="524.7" cy="390.8" r="3.6"/><circle cx="523.2" cy="393.1" r="3.6"/><circle cx="426.4" cy="389.9" r="3.6"/><circle cx="434.5" cy="386.2" r="3.6"/><circle cx="435.7" cy="392.4" r="3.6"/><circle cx="441.9" cy="391.2" r="3.6"/><circle cx="449.3" cy="387.5" r="3.6"/><circle cx="454.2" cy="389.9" r="3.6"/><circle cx="456.7" cy="391.8" r="3.6"/><circle cx="430.8" cy="330.8" r="3.6"/><circle cx="430.1" cy="334.6" r="3.6"/><circle cx="433.2" cy="336.2" r="3.6"/><circle cx="436.3" cy="337.4" r="3.6"/><circle cx="429.3" cy="339.3" r="3.6"/><circle cx="432.4" cy="339.3" r="3.6"/><circle cx="438.6" cy="339.7" r="3.6"/><circle cx="442.4" cy="342.8" r="3.6"/><circle cx="441.7" cy="344.7" r="3.6"/><circle cx="439.3" cy="347" r="3.6"/><circle cx="433.9" cy="345.5" r="3.6"/><circle cx="435.5" cy="347.8" r="3.6"/><circle cx="428.1" cy="352.4" r="3.6"/><circle cx="431.6" cy="354" r="3.6"/><circle cx="433.9" cy="351.7" r="3.6"/><circle cx="430.1" cy="359.4" r="3.6"/><circle cx="432.4" cy="361" r="3.6"/><circle cx="435.5" cy="359.4" r="3.6"/><circle cx="430.1" cy="364.8" r="3.6"/><circle cx="435.5" cy="365.6" r="3.6"/><circle cx="439.3" cy="367.2" r="3.6"/><circle cx="452.9" cy="350.1" r="3.6"/><circle cx="447.9" cy="354" r="3.6"/><circle cx="444" cy="358.6" r="3.6"/><circle cx="455.2" cy="360.6" r="3.6"/><circle cx="449" cy="365.6" r="3.6"/><circle cx="464.5" cy="365.6" r="3.6"/><circle cx="452.5" cy="337.7" r="3.6"/><circle cx="457.2" cy="340.1" r="3.6"/><circle cx="451" cy="331.2" r="3.6"/><circle cx="454.8" cy="331.5" r="3.6"/><circle cx="459.5" cy="330.8" r="3.6"/><circle cx="469.5" cy="331.5" r="3.6"/><circle cx="431.6" cy="361.5" r="3.6"/><circle cx="435.5" cy="360.8" r="3.6"/><circle cx="443.2" cy="360" r="3.6"/><circle cx="454.1" cy="360.8" r="3.6"/><circle cx="448.6" cy="365.4" r="3.6"/><circle cx="452.5" cy="367.7" r="3.6"/><circle cx="456.4" cy="370.1" r="3.6"/><circle cx="459.5" cy="373.9" r="3.6"/><circle cx="461" cy="376.3" r="3.6"/><circle cx="464.9" cy="366.2" r="3.6"/><circle cx="465.7" cy="370.8" r="3.6"/><circle cx="430.1" cy="366.2" r="3.6"/><circle cx="431.6" cy="371.6" r="3.6"/><circle cx="434.7" cy="368.5" r="3.6"/><circle cx="437.8" cy="367.7" r="3.6"/><circle cx="440.9" cy="370.1" r="3.6"/><circle cx="430.8" cy="377" r="3.6"/><circle cx="433.9" cy="375.5" r="3.6"/><circle cx="438.6" cy="377" r="3.6"/><circle cx="443.2" cy="375.5" r="3.6"/><circle cx="446.3" cy="374.7" r="3.6"/><circle cx="449.4" cy="377.8" r="3.6"/><circle cx="452.5" cy="380.1" r="3.6"/><circle cx="456.4" cy="378.6" r="3.6"/><circle cx="460.2" cy="382.4" r="3.6"/><circle cx="432.4" cy="382.4" r="3.6"/><circle cx="434.7" cy="385.5" r="3.6"/><circle cx="435.5" cy="388.6" r="3.6"/><circle cx="426.2" cy="389.4" r="3.6"/><circle cx="435.5" cy="393.3" r="3.6"/><circle cx="442.4" cy="394.1" r="3.6"/><circle cx="447.1" cy="384.8" r="3.6"/><circle cx="450.2" cy="387.9" r="3.6"/><circle cx="453.3" cy="390.2" r="3.6"/><circle cx="455.6" cy="391" r="3.6"/><circle cx="469.5" cy="391.7" r="3.6"/></g>
<line x1="38.8" y1="395.4" x2="645.6" y2="395.4" class="dl" stroke-dasharray="1.729 5.187 6.916 5.187"/>
<line x1="231.3" y1="454.90000000000003" x2="231.3" y2="69.1" class="dl" style="stroke-width:2.1" stroke-dasharray="1.729 5.187 6.916 5.187"/>
<line x1="426.3" y1="454.90000000000003" x2="426.3" y2="69.1" class="dl" style="stroke-width:2.1" stroke-dasharray="1.729 5.187 6.916 5.187"/>
<rect x="38.8" y="69.1" width="606.8" height="385" fill="none" stroke="#ababab" stroke-width="1.5"/>
<line x1="133.8" y1="454.1" x2="133.8" y2="457.1" class="tk"/>
<text transform="translate(133.8,474.7) scale(0.95,1)" class="tl" text-anchor="middle">-2</text>
<line x1="231.3" y1="454.1" x2="231.3" y2="457.1" class="tk"/>
<text transform="translate(231.3,474.7) scale(0.95,1)" class="tl" text-anchor="middle">-1</text>
<line x1="328.8" y1="454.1" x2="328.8" y2="457.1" class="tk"/>
<text transform="translate(328.8,474.7) scale(0.95,1)" class="tl" text-anchor="middle">0</text>
<line x1="426.3" y1="454.1" x2="426.3" y2="457.1" class="tk"/>
<text transform="translate(426.3,474.7) scale(0.95,1)" class="tl" text-anchor="middle">1</text>
<line x1="523.8" y1="454.1" x2="523.8" y2="457.1" class="tk"/>
<text transform="translate(523.8,474.7) scale(0.95,1)" class="tl" text-anchor="middle">2</text>
<line x1="621.4" y1="454.1" x2="621.4" y2="457.1" class="tk"/>
<text transform="translate(621.4,474.7) scale(0.95,1)" class="tl" text-anchor="middle">3</text>
<line x1="35.8" y1="437.1" x2="38.8" y2="437.1" class="tk"/>
<text transform="translate(33.4,444.5) scale(0.95,1)" class="tl" text-anchor="end">0</text>
<line x1="35.8" y1="340.9" x2="38.8" y2="340.9" class="tk"/>
<text transform="translate(33.4,348.3) scale(0.95,1)" class="tl" text-anchor="end">3</text>
<line x1="35.8" y1="244.7" x2="38.8" y2="244.7" class="tk"/>
<text transform="translate(33.4,252.1) scale(0.95,1)" class="tl" text-anchor="end">6</text>
<line x1="35.8" y1="148.6" x2="38.8" y2="148.6" class="tk"/>
<text transform="translate(33.4,156) scale(0.95,1)" class="tl" text-anchor="end">9</text>
<text x="342" y="496.9" class="at" text-anchor="middle">log2(fold change)</text>
<text transform="translate(17.9,262) rotate(-90)" class="at" text-anchor="middle">-log10 (q-value)</text>
<text x="341.8" y="17" class="ti" text-anchor="middle" textLength="75" lengthAdjust="spacingAndGlyphs">volcano</text>
<circle cx="129.5" cy="42.6" r="3.3" fill="#35bf1d"/>
<text x="137.6" y="48.2" class="lg" textLength="119" lengthAdjust="spacingAndGlyphs">Down regulated (109)</text>
<circle cx="290.9" cy="42.6" r="3.2" fill="#a3abaa"/>
<text x="300.7" y="48.2" class="lg" textLength="118" lengthAdjust="spacingAndGlyphs">Not significant (7871)</text>
<circle cx="452.5" cy="42.6" r="3.3" fill="#ed1b22"/>
<text x="461.5" y="48.2" class="lg" textLength="101" lengthAdjust="spacingAndGlyphs">Up regulated(174)</text>
</svg></body></html>
